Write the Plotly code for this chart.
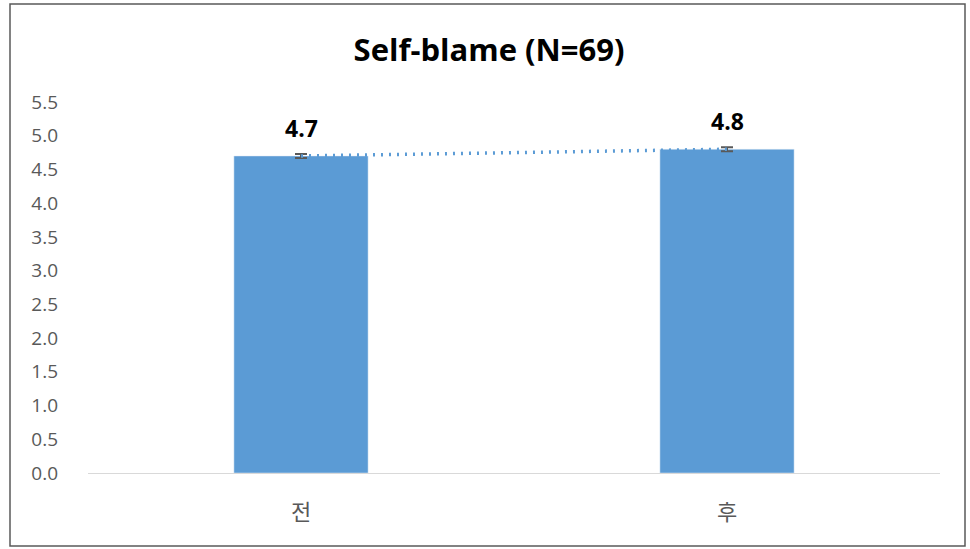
import plotly.graph_objects as go

categories = ["전", "후"]
values = [4.7, 4.8]
errors = [0.03, 0.03]
labels = ["4.7", "4.8"]
title_text = "Self-blame (N=69)"

BAR = "#5B9BD5"
L, R, T, B = 88, 30, 102, 76
W, H = 970, 549
pw, ph = W - L - R, H - T - B

fig = go.Figure()
fig.add_trace(go.Bar(
    x=categories, y=values, marker_color=BAR, width=0.315,
    error_y=dict(type="data", array=errors, visible=True, color="#595959", thickness=2, width=6),
    showlegend=False, hoverinfo="skip",
))
fig.add_trace(go.Scatter(
    x=categories, y=values, mode="lines",
    line=dict(color=BAR, width=3.5, dash="2px,6px"), showlegend=False, hoverinfo="skip",
))

annotations = []
for c, v, t in zip(categories, values, labels):
    annotations.append(dict(x=c, y=v, xref="x", yref="y", text="<b>" + t + "</b>",
                            showarrow=False, yanchor="bottom", yshift=10,
                            font=dict(family="Open Sans, DejaVu Sans", size=23, color="#000000")))

def px_x(x):
    return (x - L) / pw

def px_y(y):
    return (H - B - y) / ph

fig.update_layout(
    width=W, height=H,
    margin=dict(l=L, r=R, t=T, b=B),
    paper_bgcolor="white", plot_bgcolor="white",
    title=dict(text="<b>" + title_text + "</b>", x=489 / W, xanchor="center",
               y=1 - 50 / H, yanchor="middle",
               font=dict(family="Open Sans, DejaVu Sans", size=31, color="#000000")),
    xaxis=dict(showgrid=False, showline=True, linecolor="#D9D9D9", linewidth=1,
               tickfont=dict(family="Noto Sans CJK KR", size=22, color="#595959"),
               ticks="", ticklabelstandoff=20),
    yaxis=dict(range=[0, 5.5], dtick=0.5, tickformat=".1f", showgrid=False,
               zeroline=False, showline=False, ticks="", ticklabelstandoff=29,
               tickfont=dict(family="Open Sans, DejaVu Sans", size=19, color="#595959")),
    annotations=annotations,
    shapes=[dict(type="rect", xref="paper", yref="paper",
                 x0=px_x(10), x1=px_x(965), y0=px_y(546), y1=px_y(4),
                 line=dict(color="#595959", width=1.5), fillcolor="rgba(0,0,0,0)")],
)
fig.write_html("out.html")
